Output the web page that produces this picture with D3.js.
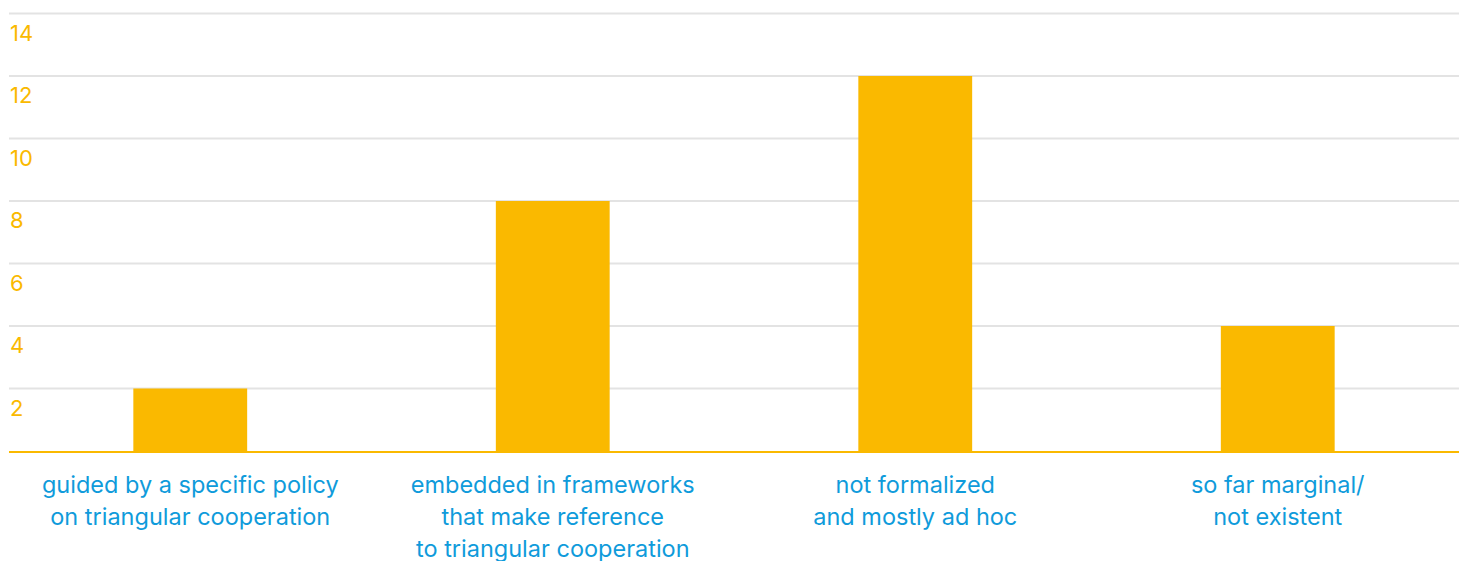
<!DOCTYPE html>
<html>
<head>
<meta charset="utf-8">
<script src="https://cdn.jsdelivr.net/npm/d3@7"></script>
<style>
  body { margin: 0; background: #fff; }
  svg text { font-family: Inter, "Noto Sans", sans-serif; }
</style>
</head>
<body>
<svg></svg>
<script>
const categories = [
  ['guided by a specific policy', 'on triangular cooperation'],
  ['embedded in frameworks', 'that make reference', 'to triangular cooperation'],
  ['not formalized', 'and mostly ad hoc'],
  ['so far marginal/', 'not existent']
];
const values = [2, 8, 12, 4];
const yTicks = [2, 4, 6, 8, 10, 12, 14];

const width = 1467;
const height = 561;
const yellow = '#fab900';
const blue = '#0f9bdb';

const svg = d3.select('svg').attr('width', width).attr('height', height);

const x = d3
  .scaleBand()
  .domain(d3.range(categories.length))
  .range([9, 1459])
  .paddingInner(0.686)
  .paddingOuter(0.343);

const y = d3.scaleLinear().domain([0, 14]).range([451, 13.5]);

// gridlines
svg
  .append('g')
  .selectAll('line')
  .data(yTicks)
  .enter()
  .append('line')
  .attr('x1', 9)
  .attr('x2', 1459)
  .attr('y1', (d) => y(d))
  .attr('y2', (d) => y(d))
  .attr('stroke', '#e3e3e3')
  .attr('stroke-width', 2);

// tick labels sit just under their gridline
svg
  .append('g')
  .selectAll('text')
  .data(yTicks)
  .enter()
  .append('text')
  .attr('x', 10)
  .attr('y', (d) => y(d) + 27)
  .attr('fill', yellow)
  .style('font-size', '22px')
  .text((d) => d);

svg
  .append('g')
  .selectAll('rect')
  .data(values)
  .enter()
  .append('rect')
  .attr('x', (_, i) => x(i))
  .attr('width', x.bandwidth())
  .attr('y', (d) => y(d))
  .attr('height', (d) => y(0) - y(d))
  .attr('fill', yellow);

// baseline
svg
  .append('line')
  .attr('x1', 9)
  .attr('x2', 1459)
  .attr('y1', y(0) + 1)
  .attr('y2', y(0) + 1)
  .attr('stroke', yellow)
  .attr('stroke-width', 2);

const labels = svg
  .append('g')
  .selectAll('text')
  .data(categories)
  .enter()
  .append('text')
  .attr('text-anchor', 'middle')
  .attr('fill', blue)
  .style('font-size', '23.5px')
  .attr('transform', (_, i) => 'translate(' + (x(i) + x.bandwidth() / 2) + ',493)');

labels
  .selectAll('tspan')
  .data((d) => d)
  .enter()
  .append('tspan')
  .attr('x', 0)
  .attr('y', (_, j) => j * 32)
  .text((d) => d);
</script>
</body>
</html>
